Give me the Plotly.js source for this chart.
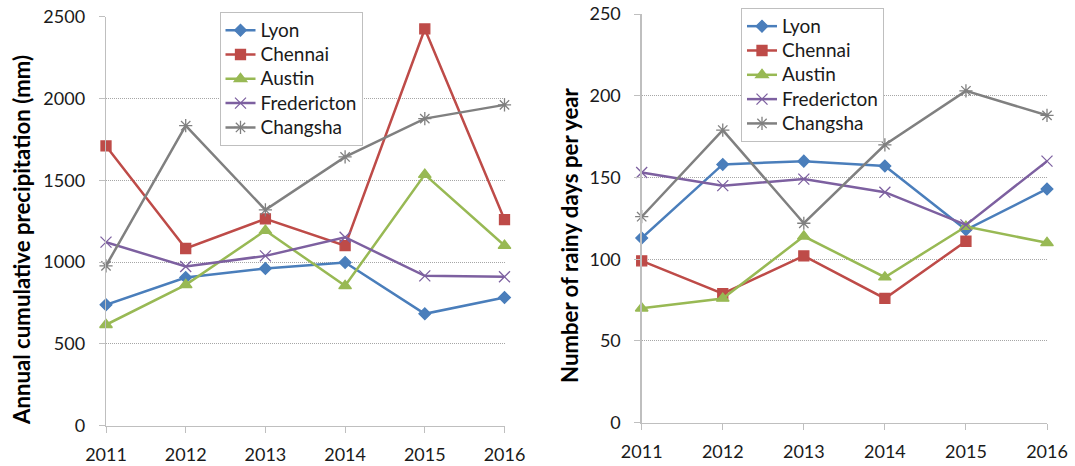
<!DOCTYPE html>
<html>
<head>
<meta charset="utf-8">
<script src="https://cdn.plot.ly/plotly-3.0.1.min.js"></script>
<style>
  body { margin: 0; background: #fff; }
  #myDiv { width: 1075px; height: 466px; }
</style>
</head>
<body>
<div id="myDiv"></div>
<script>
// Years on the x axis
var years = ['2011', '2012', '2013', '2014', '2015', '2016']
var cities = ['Lyon', 'Chennai', 'Austin', 'Fredericton', 'Changsha']

// Annual cumulative precipitation (mm)
var precipLyon = [739, 906, 961, 998, 684, 784]
var precipChennai = [1710, 1083, 1264, 1101, 2425, 1260]
var precipAustin = [617, 861, 1193, 855, 1535, 1101]
var precipFredericton = [1122, 973, 1038, 1152, 916, 910]
var precipChangsha = [977, 1834, 1319, 1643, 1877, 1961]

// Number of rainy days per year (Chennai 2016 missing)
var daysLyon = [113, 158, 160, 157, 118, 143]
var daysChennai = [99, 79, 102, 76, 111, null]
var daysAustin = [70, 76, 114, 89, 120, 110]
var daysFredericton = [153, 145, 149, 141, 121, 160]
var daysChangsha = [126, 179, 122, 170, 203, 188]

var precipTicks = [0, 500, 1000, 1500, 2000, 2500]
var daysTicks = [0, 50, 100, 150, 200, 250]

var fontName = 'Lato, "Open Sans", sans-serif'

// Excel 2007 style colours and markers for each city
var styles = {
  'Lyon': {color: '#4A7EBB', symbol: 'diamond', size: 9},
  'Chennai': {color: '#BE4B48', symbol: 'square', size: 10},
  'Austin': {color: '#98B954', symbol: 'triangle-up', size: 11},
  'Fredericton': {color: '#7D60A0', symbol: 'x-thin-open', size: 11},
  'Changsha': {color: '#808080', symbol: 'asterisk-open', size: 11}
}

function makeTrace(name, values, xa, ya, legendName) {
  var s = styles[name]
  return {
    x: years,
    y: values,
    // legend rows are spaced by legend.font.size, the label itself is drawn larger
    name: '<span style="font-size:19px">' + name + '</span>',
    type: 'scatter',
    mode: 'lines+markers',
    xaxis: xa,
    yaxis: ya,
    legend: legendName,
    cliponaxis: false,
    connectgaps: false,
    line: {color: s.color, width: 2.5},
    marker: {
      symbol: s.symbol,
      size: s.size,
      color: s.color,
      line: {color: s.color, width: 1.3}
    }
  }
}

var leftSeries = [precipLyon, precipChennai, precipAustin, precipFredericton, precipChangsha]
var rightSeries = [daysLyon, daysChennai, daysAustin, daysFredericton, daysChangsha]

var data = []
for (var i = 0; i < cities.length; i++) {
  data.push(makeTrace(cities[i], leftSeries[i], 'x', 'y', 'legend'))
}
for (var j = 0; j < cities.length; j++) {
  data.push(makeTrace(cities[j], rightSeries[j], 'x2', 'y2', 'legend2'))
}

function xAxis(domain, anchor) {
  return {
    domain: domain,
    anchor: anchor,
    type: 'category',
    range: [0, 5],
    showgrid: false,
    zeroline: false,
    showline: true,
    linecolor: '#BFBFBF',
    linewidth: 1.3,
    ticks: 'outside',
    ticklen: 6,
    tickcolor: '#BFBFBF',
    ticklabelstandoff: 6,
    tickfont: {family: fontName, size: 18, color: '#1a1a1a'},
    fixedrange: true,
    automargin: false
  }
}

function yAxis(domain, anchor, ticks, top) {
  return {
    domain: domain,
    anchor: anchor,
    range: [0, top],
    tickvals: ticks,
    showgrid: true,
    gridcolor: '#A6A6A6',
    griddash: '1px,1px',
    gridwidth: 1,
    zeroline: false,
    showline: true,
    linecolor: '#BFBFBF',
    linewidth: 1.3,
    ticks: 'outside',
    ticklen: 6,
    tickcolor: '#BFBFBF',
    ticklabelstandoff: 10,
    tickfont: {family: fontName, size: 18, color: '#1a1a1a'},
    fixedrange: true,
    automargin: false
  }
}

function legendBox(x, y) {
  return {
    x: x,
    y: y,
    xanchor: 'left',
    yanchor: 'top',
    bgcolor: '#ffffff',
    bordercolor: '#BFBFBF',
    borderwidth: 1,
    tracegroupgap: 0,
    itemwidth: 30,
    font: {family: fontName, size: 16.4, color: '#1a1a1a'}
  }
}

function sideTitle(text, x, y) {
  return {
    text: text,
    xref: 'paper',
    yref: 'paper',
    x: x,
    y: y,
    xanchor: 'center',
    yanchor: 'middle',
    textangle: -90,
    showarrow: false,
    font: {family: fontName, size: 22.2, color: '#000000', weight: 'bold'}
  }
}

var layout = {
  width: 1075,
  height: 466,
  margin: {l: 0, r: 0, t: 0, b: 0},
  paper_bgcolor: '#ffffff',
  plot_bgcolor: '#ffffff',
  showlegend: true,
  xaxis: xAxis([106 / 1075, 504.5 / 1075], 'y'),
  yaxis: yAxis([1 - 425.7 / 466, 1 - 16.7 / 466], 'x', precipTicks, 2500),
  xaxis2: xAxis([641.7 / 1075, 1047 / 1075], 'y2'),
  yaxis2: yAxis([1 - 422.7 / 466, 1 - 14 / 466], 'x2', daysTicks, 250),
  legend: legendBox(219.5 / 1075, 1 - 12 / 466),
  legend2: legendBox(741 / 1075, 1 - 8 / 466),
  annotations: [
    sideTitle('Annual cumulative precipitation (mm)', 21 / 1075, 1 - 240 / 466),
    sideTitle('Number of rainy days per year', 569 / 1075, 1 - 236 / 466)
  ]
}

Plotly.newPlot('myDiv', data, layout, {staticPlot: true, displayModeBar: false})
</script>
</body>
</html>
